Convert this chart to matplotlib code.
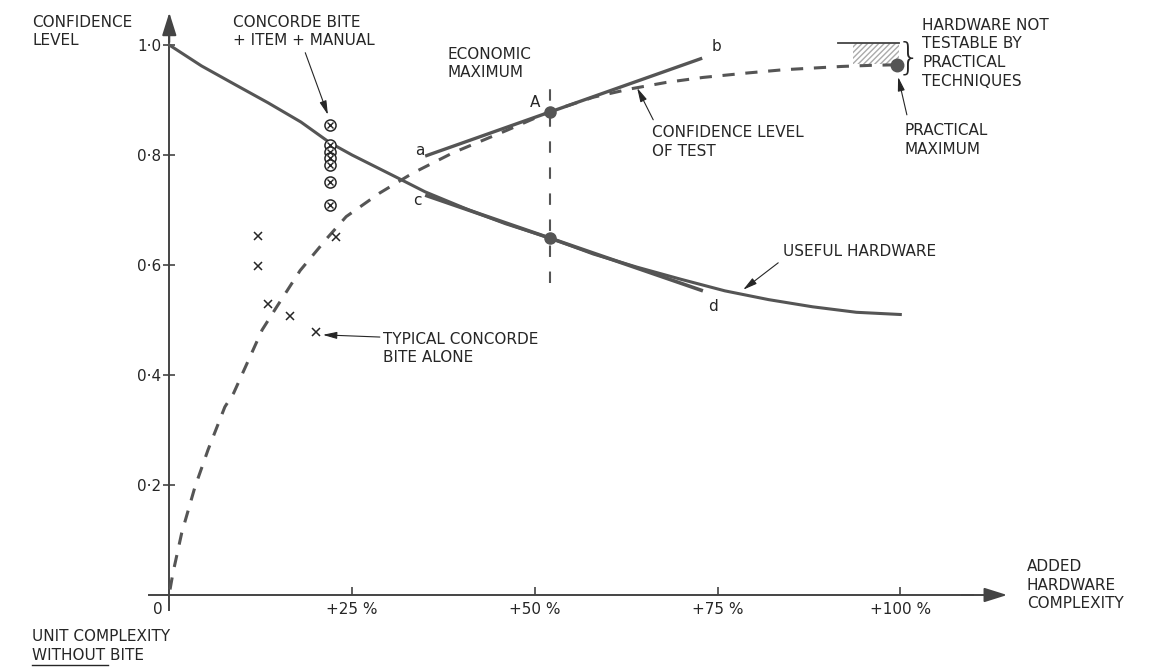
import matplotlib
matplotlib.use("Agg")
from matplotlib import pyplot as plt
from matplotlib.patches import Rectangle

# x = added hardware complexity (%), y = confidence level
useful_x = [0, 4.4, 9, 13.5, 18, 22, 25, 31, 35, 41, 46, 52.1, 58, 64, 70, 76, 82, 88, 94, 100]
useful_y = [1.0, 0.962, 0.928, 0.895, 0.86, 0.822, 0.80, 0.76, 0.733, 0.70, 0.675, 0.649,
            0.62, 0.596, 0.574, 0.553, 0.537, 0.524, 0.514, 0.51]

test_x = [0.1, 0.5, 1.7, 3.5, 5.3, 7.6, 8.8, 12.7, 14.7, 17.9, 21.6, 24.2, 28.8, 33.3, 38.8,
          46.2, 52.1, 58, 63, 68, 73, 79, 84, 88, 92, 96, 99.5]
test_y = [0.01, 0.04, 0.113, 0.196, 0.264, 0.342, 0.367, 0.482, 0.524, 0.59, 0.649, 0.688,
          0.731, 0.767, 0.804, 0.845, 0.879, 0.905, 0.920, 0.932, 0.941, 0.949, 0.955,
          0.958, 0.961, 0.963, 0.964]

# tangents at the economic maximum
tan_ab_x = [35.0, 72.9]
tan_ab_y = [0.798, 0.976]
tan_cd_x = [35.0, 73.0]
tan_cd_y = [0.727, 0.553]

econ_x = 52.1
econ_top, econ_bottom = 0.879, 0.649
econ_line_y = [0.567, 0.924]

practical_max = (99.5, 0.964)
untestable_x = [93.5, 99.8]
untestable_y = [0.966, 1.003]
untestable_top_x = [91.5, 99.8]

bite_alone_x = [12.1, 12.1, 13.5, 16.5, 20.1, 22.8]
bite_alone_y = [0.653, 0.598, 0.529, 0.507, 0.478, 0.651]
bite_item_x = [22, 22, 22, 22, 22, 22, 22]
bite_item_y = [0.855, 0.818, 0.806, 0.794, 0.782, 0.750, 0.709]

x_ticks = [25, 50, 75, 100]
x_labels = ['+25 %', '+50 %', '+75 %', '+100 %']
y_ticks = [0.2, 0.4, 0.6, 0.8, 1.0]
y_labels = ['0·2', '0·4', '0·6', '0·8', '1·0']

LINE = '#555555'
AXC = '#444444'
TXT = '#262626'
FS = 11

plt.rcParams['font.family'] = ['DejaVu Sans']

fig = plt.figure(figsize=(11.59, 6.67), dpi=100)
ax = fig.add_axes([0, 0, 1, 1])
ax.set_xlim(-23.16, 135.39)
ax.set_ylim(-0.1309, 1.0818)

# axes
for s in ['top', 'right']:
    ax.spines[s].set_visible(False)
ax.spines['left'].set_position(('data', 0))
ax.spines['bottom'].set_position(('data', 0))
ax.spines['left'].set_bounds(-0.027, 1.02)
ax.spines['bottom'].set_bounds(-2.8, 110)
for s in ['left', 'bottom']:
    ax.spines[s].set_color(AXC)
    ax.spines[s].set_linewidth(1.4)
ax.annotate('', xy=(0, 1.064), xytext=(0, 1.0),
            arrowprops=dict(arrowstyle='-|>,head_length=0.7,head_width=0.22',
                            color=AXC, lw=1.4, mutation_scale=20))
ax.annotate('', xy=(115, 0), xytext=(108, 0),
            arrowprops=dict(arrowstyle='-|>,head_length=0.7,head_width=0.22',
                            color=AXC, lw=1.4, mutation_scale=20))

ax.set_xticks(x_ticks)
ax.set_xticklabels(x_labels)
ax.set_yticks(y_ticks)
ax.set_yticklabels(y_labels)
ax.tick_params(axis='x', direction='in', length=6, width=1.2, color=AXC, pad=5,
               labelsize=FS, labelcolor=TXT)
ax.tick_params(axis='y', direction='inout', length=8, width=1.2, color=AXC, pad=2,
               labelsize=FS, labelcolor=TXT)
ax.text(-0.9, -0.027, '0', ha='right', va='center', fontsize=FS, color=TXT)

# curves
ax.plot(test_x, test_y, color=LINE, lw=2.2, dashes=(4, 3.5), zorder=3)
ax.plot(useful_x, useful_y, color=LINE, lw=2.2, zorder=3)
ax.plot(tan_ab_x, tan_ab_y, color=LINE, lw=2.4, solid_capstyle='butt', zorder=4)
ax.plot(tan_cd_x, tan_cd_y, color=LINE, lw=2.6, solid_capstyle='butt', zorder=4)
ax.plot([econ_x, econ_x], econ_line_y, color=LINE, lw=1.5, dashes=(5.5, 7), zorder=3)
ax.plot([econ_x, econ_x], [econ_top, econ_bottom], 'o', color=LINE, ms=8, zorder=5)
ax.plot(*practical_max, 'o', color=LINE, ms=9, zorder=5)

# hardware not testable
ax.add_patch(Rectangle((untestable_x[0], untestable_y[0]), untestable_x[1] - untestable_x[0],
                       untestable_y[1] - untestable_y[0], facecolor='white',
                       edgecolor='#aaaaaa', hatch='//////', lw=0, zorder=2))
ax.plot(untestable_top_x, [untestable_y[1], untestable_y[1]], color=AXC, lw=1.3, zorder=3)
ax.text(101.1, 0.977, '}', fontsize=27, color=TXT, ha='center', va='center',
        fontweight='light')

# measured points
ax.plot(bite_alone_x, bite_alone_y, 'x', color=TXT, ms=6, mew=1.1, zorder=5)
ax.plot(bite_item_x, bite_item_y, 'o', mfc='white', mec=TXT, ms=8, mew=1.1, zorder=5)
ax.plot(bite_item_x, bite_item_y, 'x', color=TXT, ms=4.2, mew=1.0, zorder=6)

# labels
def label(x, y, s, **kw):
    ax.text(x, y, s, fontsize=FS, color=TXT, linespacing=1.3, va='center', ha='left', **kw)

label(-18.75, 1.0245, 'CONFIDENCE\nLEVEL')
label(8.7, 1.0245, 'CONCORDE BITE\n+ ITEM + MANUAL')
label(38.1, 0.966, 'ECONOMIC\nMAXIMUM')
label(49.3, 0.896, 'A')
label(33.6, 0.809, 'a')
label(74.2, 0.998, 'b')
label(33.4, 0.718, 'c')
label(73.7, 0.524, 'd')
label(66.0, 0.824, 'CONFIDENCE LEVEL\nOF TEST')
label(100.6, 0.827, 'PRACTICAL\nMAXIMUM')
label(102.97, 0.985, 'HARDWARE NOT\nTESTABLE BY\nPRACTICAL\nTECHNIQUES')
label(83.96, 0.624, 'USEFUL HARDWARE')
label(29.2, 0.448, 'TYPICAL CONCORDE\nBITE ALONE')
label(117.3, 0.018, 'ADDED\nHARDWARE\nCOMPLEXITY')
label(-18.75, -0.093, 'UNIT COMPLEXITY\nWITHOUT BITE')
ax.plot([-18.75, -8.4], [-0.127, -0.127], color=TXT, lw=1.0)

arrow = dict(arrowstyle='-|>,head_length=0.6,head_width=0.15', color=TXT, lw=0.8,
             mutation_scale=14, shrinkA=0, shrinkB=0)
ax.annotate('', xy=(21.7, 0.873), xytext=(18.6, 0.986), arrowprops=arrow)
ax.annotate('', xy=(64.0, 0.922), xytext=(66.2, 0.864), arrowprops=arrow)
ax.annotate('', xy=(99.7, 0.942), xytext=(100.9, 0.873), arrowprops=arrow)
ax.annotate('', xy=(78.5, 0.555), xytext=(83.3, 0.604), arrowprops=arrow)
ax.annotate('', xy=(21.0, 0.473), xytext=(28.8, 0.469), arrowprops=arrow)

fig.savefig('out.png', dpi=100)
